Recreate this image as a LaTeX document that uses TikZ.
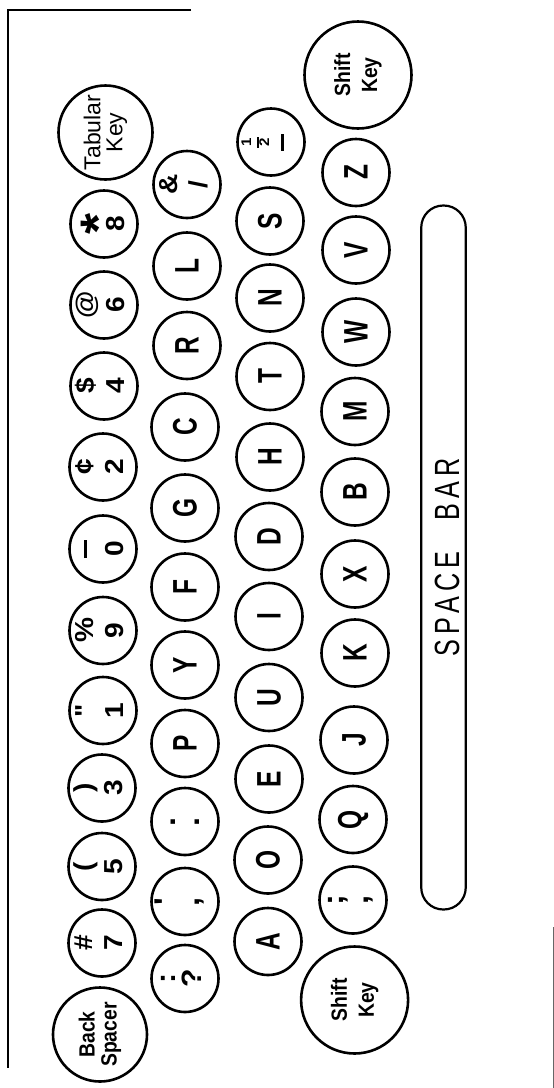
\documentclass[tikz,border=0pt]{standalone}
\usepackage{fontspec}
\setmainfont{Liberation Sans}
\newfontfamily\letfont[FakeStretch=0.72]{Liberation Sans}
\newfontfamily\symfont[FakeStretch=1.08]{Liberation Sans}
\newfontfamily\labfont[FakeStretch=0.88]{Liberation Sans}
\newfontfamily\barfont[FakeStretch=0.72]{Liberation Sans}
% two-line key legend: #1 baselineskip, #2 font size, #3 upper, #4 lower
\newcommand\tw[4]{{\fontsize{#2}{#1}\selectfont\begin{tabular}[t]{@{}c@{}}#3\\#4\end{tabular}}}
\newcommand\bigast{\raisebox{-21pt}[16pt][0pt]{\fontsize{50}{50}\selectfont *}}
\newcommand\topdash{\rule[6.5pt]{18pt}{2.8pt}}
\newcommand\halfsym{\raisebox{-8pt}[14pt][8pt]{\fontsize{14}{14}\selectfont\bfseries
  \begin{tabular}[b]{@{}c@{}}1\\[-6pt]\rule{11pt}{1.6pt}\\[-4pt]2\end{tabular}}}
\newcommand\sk{\kern5pt}
\begin{document}
\begin{tikzpicture}[x=1pt,y=-1pt,
  key/.style={circle,draw,line width=2.6pt,inner sep=0pt,minimum size=67pt,rotate=90},
  letkey/.style={key,font=\letfont\bfseries\fontsize{34}{34}\selectfont},
  pairkey/.style={key,font=\symfont\bfseries,text height=20pt,text depth=40pt},
  bigkey/.style={key,minimum size=94pt,align=center},
  shiftkey/.style={key,minimum size=107pt,align=center,font=\labfont\bfseries\fontsize{22}{27}\selectfont},
  spacebar/.style={draw,line width=2.2pt,rounded corners=22pt,minimum width=704pt,minimum height=44.5pt,
    inner sep=0pt,rotate=90,text height=31pt,text depth=0pt,font=\barfont\fontsize{35}{35}\selectfont}]
\fill[white] (0,0) rectangle (554,1088);
\useasboundingbox (0,0) rectangle (554,1088);
% frame
\draw[line width=2.4pt] (191,10) -- (8,10) -- (8,1068);
\draw[line width=0.8pt,black!60] (553,927) -- (553,1088);
% column 1 (top row)
\node[bigkey,font=\fontsize{23}{22}\selectfont] (tab) at (105.5,132.5) {Tabular\\Key};
\node[pairkey] (k8) at (104,224) {\tw{30pt}{26}{\bigast}{8}};
\node[pairkey] (k6) at (104,305) {\tw{30pt}{26}{@}{6}};
\node[pairkey] (k4) at (104,386) {\tw{30pt}{26}{\$}{4}};
\node[pairkey] (k2) at (103,467) {\tw{30pt}{26}{¢}{2}};
\node[pairkey] (k0) at (103,549) {\tw{30pt}{26}{\topdash}{0}};
\node[pairkey] (k9) at (103,630.5) {\tw{30pt}{26}{\%}{9}};
\node[pairkey] (k1) at (103,710.5) {\tw{30pt}{26}{"}{1}};
\node[pairkey] (k3) at (102,788) {\tw{30pt}{26}{)}{3}};
\node[pairkey] (k5) at (102,866.5) {\tw{30pt}{26}{(}{5}};
\node[pairkey] (k7) at (102,943) {\tw{30pt}{26}{\#}{7}};
\node[bigkey,font=\labfont\bfseries\fontsize{22}{22}\selectfont] (back) at (100,1034.5) {Back\\Spacer};
% column 2
\node[pairkey] (amp) at (187,184.5) {\tw{30pt}{26}{\&}{/}};
\node[letkey] (L) at (187,266) {L};
\node[letkey] (R) at (187,345.5) {R};
\node[letkey] (C) at (185,427) {C};
\node[letkey] (G) at (185,508) {G};
\node[letkey] (F) at (185,587) {F};
\node[letkey] (Y) at (185,665) {Y};
\node[letkey] (P) at (185,743.5) {P};
\node[pairkey] (dot) at (185,821.5) {\tw{24pt}{30}{.}{.}};
\node[pairkey] (com) at (185,901.5) {\tw{24pt}{30}{'}{,}};
\node[pairkey] (qst) at (185,978.5) {\tw{24pt}{28}{:}{?}};
% column 3
\node[pairkey] (half) at (271,142) {\tw{30pt}{26}{\halfsym}{\rule[7pt]{17pt}{2.6pt}}};
\node[letkey] (S) at (270,221) {S};
\node[letkey] (N) at (270,298) {N};
\node[letkey] (T) at (270,376.5) {T};
\node[letkey] (H) at (270,457) {H};
\node[letkey] (D) at (269,536.5) {D};
\node[letkey] (I) at (269,616.5) {I};
\node[letkey] (U) at (269,697.5) {U};
\node[letkey] (E) at (269,779) {E};
\node[letkey] (O) at (268,860) {O};
\node[letkey] (A) at (268,941.5) {A};
% column 4
\node[shiftkey] (shiftR) at (358,75) {Shift\\Key};
\node[letkey] (Z) at (356,172.5) {Z};
\node[letkey] (V) at (356,250) {V};
\node[letkey] (W) at (356,332) {W};
\node[letkey] (M) at (355,411.5) {M};
\node[letkey] (B) at (355,492) {B};
\node[letkey] (X) at (355,574) {X};
\node[letkey] (K) at (355,653) {K};
\node[letkey] (J) at (354,740) {J};
\node[letkey] (Q) at (353,819.5) {Q};
\node[pairkey] (semi) at (353,900) {\tw{25pt}{30}{;}{,}};
\node[shiftkey] (shiftL) at (354.6,1000) {Shift\\Key};
% space bar
\node[spacebar] (space) at (443.5,557.5) {S\sk P\sk A\sk C\sk E\kern31pt B\sk A\sk R};
\end{tikzpicture}
\end{document}
